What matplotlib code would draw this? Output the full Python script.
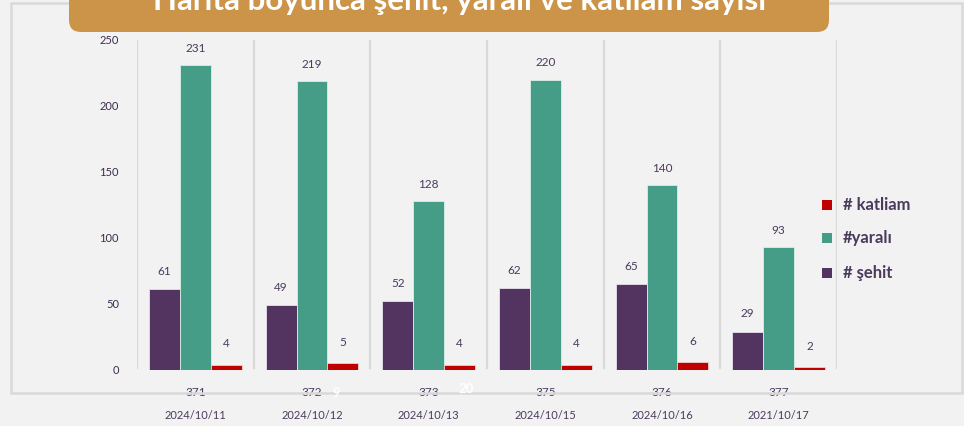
import numpy as np
import matplotlib.pyplot as plt
from matplotlib.patches import FancyBboxPatch, Rectangle
from matplotlib.transforms import IdentityTransform

# Data
sira = ["371", "372", "373", "375", "376", "377"]
tarihler = ["2024/10/11", "2024/10/12", "2024/10/13", "2024/10/15", "2024/10/16", "2021/10/17"]
sehit = [61, 49, 52, 62, 65, 29]
yarali = [231, 219, 128, 220, 140, 93]
katliam = [4, 5, 4, 4, 6, 2]

seri_adlari = ["# katliam", "#yaralı", "# şehit"]
baslik = "Harita boyunca şehit, yaralı ve katliam sayısı"

mor = "#533461"
yesil = "#459c87"
kirmizi = "#c00000"
yazi = "#4b3a5c"
gri = "#d9d9d9"
bg = "#f2f2f2"

plt.rcParams['font.family'] = ['Lato', 'DejaVu Sans']

W, H = 964, 426
fig = plt.figure(figsize=(W / 100, H / 100), dpi=100, facecolor=bg)
px = IdentityTransform()

# outer frame
fig.patches.append(Rectangle((11, H - 393), 951, 390, transform=px, fill=False,
                             edgecolor=gri, linewidth=1.8))

# axes: x 137..837, y 0 at 370, 250 at 40
ax = fig.add_axes([137 / W, (H - 370) / H, 700 / W, 330 / H])
ax.set_facecolor('none')
x = np.arange(len(sira))
w = 31 / 116.7
b1 = ax.bar(x - w, sehit, w, color=mor, edgecolor="#e8e0ec", linewidth=0.6, zorder=3)
b2 = ax.bar(x, yarali, w, color=yesil, edgecolor="#d8efe8", linewidth=0.6, zorder=3)
b3 = ax.bar(x + w, katliam, w, color=kirmizi, edgecolor="#f0d0d0", linewidth=0.6, zorder=3)

for bars, vals, off in [(b1, sehit, 13), (b2, yarali, 12), (b3, katliam, 15)]:
    for r, v in zip(bars, vals):
        ax.annotate(str(v), (r.get_x() + r.get_width() / 2, v), xytext=(0, off),
                    textcoords='offset points', ha='center', va='center',
                    fontsize=8.5, color=yazi)

ax.set_xlim(-0.5, len(sira) - 0.5)
ax.set_ylim(0, 250)
for xv in np.arange(-0.5, len(sira), 1):
    ax.axvline(xv, ymin=0.005, ymax=0.997, color=gri, linewidth=1.6, zorder=1)

ax.set_yticks([0, 50, 100, 150, 200, 250])
ax.tick_params(axis='y', length=0, pad=13, labelsize=8, labelcolor="#3d2b4a")
ax.set_xticks([])
for s in ax.spines.values():
    s.set_visible(False)

for i in range(len(sira)):
    ax.annotate(sira[i], (x[i], 0), xycoords=('data', 'axes fraction'),
                xytext=(0, -16), textcoords='offset points', ha='center', va='center',
                fontsize=8.5, color=yazi)
    ax.annotate(tarihler[i], (x[i], 0), xycoords=('data', 'axes fraction'),
                xytext=(0, -33), textcoords='offset points', ha='center', va='center',
                fontsize=8, color=yazi)

# stray white labels
fig.text(336 / W, 1 - 393 / H, "9", color="white", fontsize=9, fontweight='bold',
         ha='center', va='center')
fig.text(466 / W, 1 - 389 / H, "20", color="white", fontsize=9.5, fontweight='bold',
         ha='center', va='center')

# legend
renkler = [kirmizi, yesil, mor]
leg_y = [205, 238, 273]
for ad, c, yy in zip(seri_adlari, renkler, leg_y):
    fig.patches.append(Rectangle((822, H - yy - 5), 10, 10, transform=px,
                                 facecolor=c, edgecolor='none'))
    fig.text(843 / W, 1 - yy / H, ad, color=yazi, fontsize=12, fontweight='bold',
             ha='left', va='center')

# title banner (cut off at the top, as in the original)
r = 12
fig.patches.append(FancyBboxPatch((69 + r, H - 32 + r), 760 - 2 * r, 60,
                                  boxstyle=f"round,pad={r}", transform=px,
                                  facecolor="#cc9449", edgecolor='none'))
fig.text(460 / W, 1 - 10 / H, baslik, color="white", fontsize=22.5, fontweight='bold',
         ha='center', va='baseline')

fig.savefig("out.png", dpi=100, facecolor=bg)
